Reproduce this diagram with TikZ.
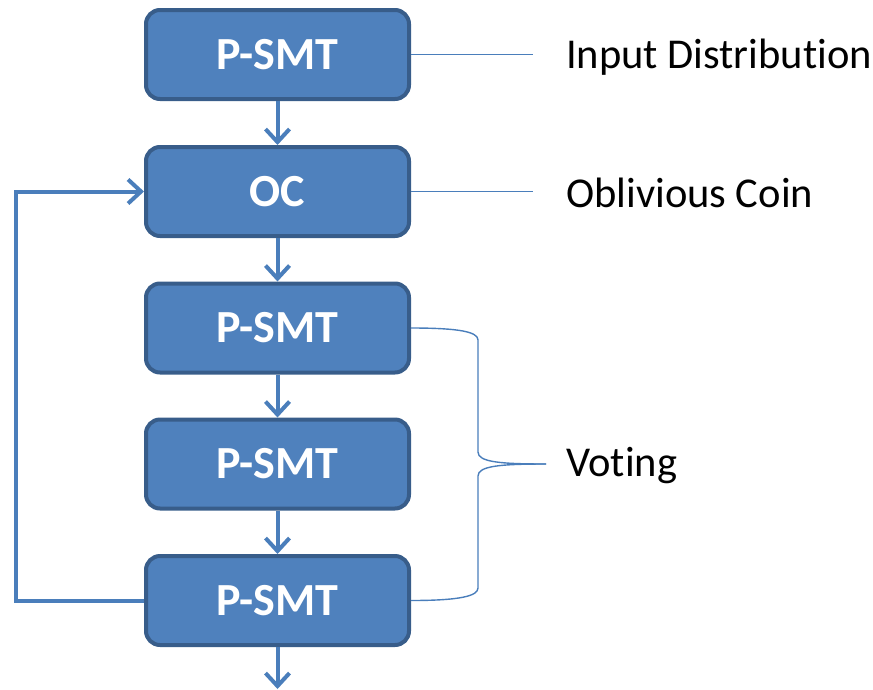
\documentclass[tikz,border=0pt]{standalone}
\usepackage{fontspec}
\setmainfont[Ligatures=NoCommon]{Carlito}
\usetikzlibrary{arrows.meta}
\definecolor{boxfill}{HTML}{4F81BD}
\definecolor{boxedge}{HTML}{385D8A}
\definecolor{flow}{HTML}{4A7EBB}
\tikzset{
  stage/.style={draw=boxedge, line width=4pt, fill=boxfill, rounded corners=14pt,
    minimum width=263pt, minimum height=89pt, inner sep=0pt,
    text=white, font=\fontsize{46}{50}\selectfont\bfseries},
  flowarrow/.style={draw=flow, line width=4pt,
    -{Straight Barb[length=13pt, width=24pt, line width=4pt]}},
  note/.style={draw=flow, line width=1.4pt},
  label/.style={anchor=west, inner sep=0pt, font=\fontsize{42.5}{46}\selectfont}
}
\begin{document}
\begin{tikzpicture}[x=1pt, y=-1pt]
\useasboundingbox (0,0) rectangle (873,689);
% five stages in a column
\node[stage] (s1) at (277.5,54.5) {P-SMT};
\node[stage] (s2) at (277.5,191.5) {OC};
\node[stage] (s3) at (277.5,328) {P-SMT};
\node[stage] (s4) at (277.5,464) {P-SMT};
\node[stage] (s5) at (277.5,600.5) {P-SMT};
\coordinate (out) at (277.5,689);
% downward flow
\draw[flowarrow] (s1.south) -- (s2.north);
\draw[flowarrow] (s2.south) -- (s3.north);
\draw[flowarrow] (s3.south) -- (s4.north);
\draw[flowarrow] (s4.south) -- (s5.north);
\draw[flowarrow] (s5.south) -- (out);
% feedback loop back to the coin stage
\coordinate (lb) at (16,600.5);
\coordinate (lt) at (16,191.5);
\draw[flowarrow] (s5.west) -- (lb) -- (lt) -- (s2.west);
% annotations
\node[label] (t1) at (566,57) {Input Distribution};
\node[label] (t2) at (566,193) {Oblivious Coin};
\node[label] (t3) at (566,466) {Voting};
\coordinate (e1) at (533,54.5);
\coordinate (e2) at (533,191.5);
\draw[note] (s1.east) -- (e1);
\draw[note] (s2.east) -- (e2);
% brace spanning the voting stages
\coordinate (tip) at (546,464);
\draw[note] (s3.east) .. controls (460,328) and (478,332) .. (478,340)
  -- (478,452) .. controls (478,462) and (500,464) .. (tip);
\draw[note] (tip) .. controls (500,464) and (478,466) .. (478,476)
  -- (478,588) .. controls (478,596) and (460,600.5) .. (s5.east);
\end{tikzpicture}
\end{document}
